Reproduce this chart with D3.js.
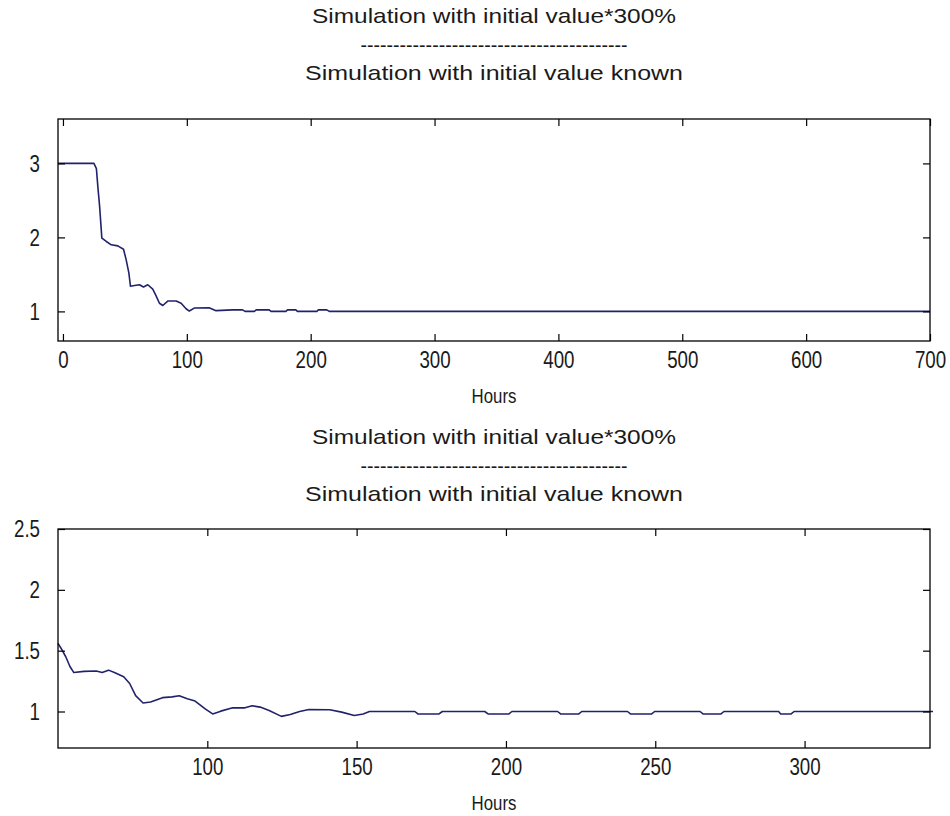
<!DOCTYPE html>
<html>
<head>
<meta charset="utf-8">
<script src="https://cdn.jsdelivr.net/npm/d3@7"></script>
<style>
  html, body { margin: 0; padding: 0; background: #ffffff; }
  svg { display: block; }
  text { font-family: "Liberation Sans", Arial, sans-serif; fill: #1a1a1a; }
</style>
</head>
<body>
<svg id="chart" width="950" height="816"></svg>
<script>
// Ratio of the 300% start-value run to the known start-value run, full horizon
const fullHours = [-4, 25, 27, 28.2, 29.6, 31.4, 35, 39, 44.3, 48.9, 51, 53.2, 54.5, 57.8, 61.8, 65, 68.5, 72.5, 75.2, 77.9, 80.6, 84.6, 91.4, 95.4, 99.4, 102, 106, 118, 123.6, 137, 145, 147, 154.5, 156, 166.5, 168, 180, 181.3, 188, 189.3, 201, 205, 206, 213, 215, 700];
const fullRatio = [3.0, 3.0, 2.93, 2.68, 2.42, 1.99, 1.945, 1.9, 1.885, 1.84, 1.7, 1.52, 1.34, 1.35, 1.36, 1.33, 1.36, 1.3, 1.21, 1.11, 1.08, 1.14, 1.14, 1.11, 1.036, 1.005, 1.045, 1.05, 1.01, 1.02, 1.02, 1.0, 1.0, 1.02, 1.02, 1.0, 1.0, 1.02, 1.02, 1.0, 1.0, 1.0, 1.02, 1.02, 1.0, 1.0];

// Same ratio, close-up from 50 h onwards
const zoomHours = [50, 51, 52.6, 54, 55.3, 58.7, 62.8, 64.8, 66.9, 68.9, 72, 74, 76, 78.5, 81, 85, 88.2, 90.6, 93.3, 95.9, 99.4, 101.8, 104.5, 108.5, 112.6, 115, 117.7, 120.7, 124.8, 127.8, 130.9, 134, 141, 145, 149.2, 152.2, 154.3, 169.5, 170.5, 177.6, 178.7, 192.9, 194, 201, 202, 217.3, 218.3, 224.4, 225.4, 240.7, 241.7, 248.8, 249.8, 265, 266, 272, 273, 291.3, 292, 295.5, 296.5, 343];
const zoomRatio = [1.56, 1.52, 1.45, 1.37, 1.32, 1.33, 1.333, 1.32, 1.34, 1.32, 1.286, 1.23, 1.13, 1.07, 1.078, 1.114, 1.12, 1.13, 1.105, 1.086, 1.02, 0.98, 1.003, 1.03, 1.03, 1.047, 1.036, 1.008, 0.96, 0.975, 1.0, 1.017, 1.014, 0.995, 0.967, 0.98, 1.0, 1.0, 0.98, 0.98, 1.0, 1.0, 0.98, 0.98, 1.0, 1.0, 0.98, 0.98, 1.0, 1.0, 0.98, 0.98, 1.0, 1.0, 0.98, 0.98, 1.0, 1.0, 0.98, 0.98, 1.0, 1.0];

const fullXTicks = [0, 100, 200, 300, 400, 500, 600, 700];
const fullYTicks = [1, 2, 3];
const zoomXTicks = [100, 150, 200, 250, 300];
const zoomYTicks = [1, 1.5, 2, 2.5];

const titleTop = "Simulation with initial value*300%";
const titleRule = "-----------------------------------------";
const titleBottom = "Simulation with initial value known";
const xLabel = "Hours";

const svg = d3.select("#chart");
const lineColor = "#22226c";
const tickLen = 7;
const labelSize = 24;

// narrow the Windows-style labels horizontally, keeping their anchor point
function squeeze(sel, k) {
  sel.each(function () {
    const t = d3.select(this);
    const x0 = +t.attr("x") || 0;
    t.attr("x", x0 / k).attr("transform", `scale(${k},1)`);
  });
}

function panel(opts) {
  const { left, right, top, bottom, xDomain, yDomain, xTicks, yTicks, xs, ys, titleY, yFmt } = opts;
  const x = d3.scaleLinear().domain(xDomain).range([left, right]);
  const y = d3.scaleLinear().domain(yDomain).range([bottom, top]);
  const g = svg.append("g");

  // Titles stacked above the axes
  const cx = (left + right) / 2;
  [[titleTop, 364], [titleRule, 267], [titleBottom, 378]].forEach(([t, w], i) => {
    g.append("text")
      .attr("x", cx).attr("y", titleY + i * 28.5)
      .attr("text-anchor", "middle")
      .attr("font-size", 21)
      .attr("textLength", w).attr("lengthAdjust", "spacingAndGlyphs")
      .text(t);
  });

  // Data line
  const pts = xs.map((v, i) => [v, ys[i]]);
  g.append("path")
    .datum(pts)
    .attr("fill", "none")
    .attr("stroke", lineColor)
    .attr("stroke-width", 1.6)
    .attr("stroke-linejoin", "round")
    .attr("d", d3.line().x(d => x(d[0])).y(d => y(d[1])));

  // Axes with inward ticks on all four sides
  const axB = d3.axisBottom(x).tickValues(xTicks).tickSize(-tickLen).tickPadding(10).tickFormat(d3.format("d"));
  const axT = d3.axisTop(x).tickValues(xTicks).tickSize(-tickLen).tickFormat("");
  const axL = d3.axisLeft(y).tickValues(yTicks).tickSize(-tickLen).tickPadding(18).tickFormat(yFmt);
  const axR = d3.axisRight(y).tickValues(yTicks).tickSize(-tickLen).tickFormat("");

  const styleAxis = sel => {
    sel.selectAll(".tick line").attr("stroke", "#000").attr("stroke-width", 1.2);
    sel.selectAll(".tick text")
      .attr("font-size", labelSize)
      .attr("font-family", "Liberation Sans, Arial, sans-serif")
      .attr("fill", "#1a1a1a")
      .call(squeeze, 0.78);
  };
  g.append("g").attr("transform", `translate(0,${bottom})`).call(axB).call(styleAxis);
  g.append("g").attr("transform", `translate(0,${top})`).call(axT).call(styleAxis);
  g.append("g").attr("transform", `translate(${left},0)`).call(axL).call(styleAxis);
  g.append("g").attr("transform", `translate(${right},0)`).call(axR).call(styleAxis);
  g.selectAll(".domain").remove();
  g.append("rect")
    .attr("x", left).attr("y", top)
    .attr("width", right - left).attr("height", bottom - top)
    .attr("fill", "none").attr("stroke", "#000").attr("stroke-width", 1.3);

  g.append("text")
    .attr("x", cx).attr("y", bottom + 62)
    .attr("text-anchor", "middle")
    .attr("font-size", 21)
    .text(xLabel)
    .call(squeeze, 0.8);
}

panel({
  left: 58, right: 930, top: 119, bottom: 341,
  xDomain: [-4, 700], yDomain: [0.6, 3.6],
  xTicks: fullXTicks, yTicks: fullYTicks,
  xs: fullHours, ys: fullRatio,
  titleY: 23, yFmt: d3.format("d")
});

panel({
  left: 58, right: 930, top: 529, bottom: 748,
  xDomain: [50, 342], yDomain: [0.7, 2.5],
  xTicks: zoomXTicks, yTicks: zoomYTicks,
  xs: zoomHours, ys: zoomRatio,
  titleY: 444, yFmt: d => (d % 1 === 0 ? d3.format("d")(d) : d3.format(".1f")(d))
});
</script>
</body>
</html>
